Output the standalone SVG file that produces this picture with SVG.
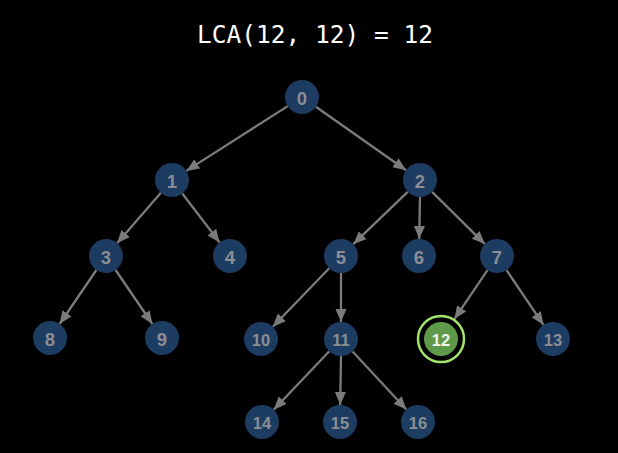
<svg xmlns="http://www.w3.org/2000/svg" width="618" height="453" viewBox="0 0 618 453">
  <defs>
    <style>
      .node circle { fill: #1d3c61; }
      .node text { fill: #8a8e94; font-family: "Liberation Sans", Arial, sans-serif; font-weight: bold; text-anchor: middle; dominant-baseline: central; }
      .big text { font-size: 18.5px; }
      .small text { font-size: 16.5px; }
      .edge { stroke: #7b7b7b; stroke-width: 2.3; fill: none; marker-end: url(#arrow); }
      .title { fill: #ffffff; font-family: "DejaVu Sans Mono", "Liberation Mono", monospace; font-size: 24.5px; text-anchor: middle; }
      #n12 circle.core { fill: #5e9a49; }
      #n12 circle.ring { fill: none; stroke: #a3e46a; stroke-width: 2.5; }
      #n12 text { fill: #f2f4f0; }
    </style>
    <marker id="arrow" markerUnits="userSpaceOnUse" markerWidth="14" markerHeight="12" refX="13" refY="5.5" orient="auto">
      <path d="M0,0 L13,5.5 L0,11 z" fill="#7b7b7b"/>
    </marker>
  </defs>

  <rect width="618" height="453" fill="#000000"/>

  <text class="title" x="315" y="43">LCA(12, 12) = 12</text>

  <g id="edges">
    <line class="edge" x1="287.7" y1="106.1" x2="186.3" y2="170.9"/>
    <line class="edge" x1="315.9" y1="106.8" x2="406.1" y2="170.2"/>
    <line class="edge" x1="160.9" y1="192.8" x2="117.1" y2="243.2"/>
    <line class="edge" x1="182.3" y1="193.5" x2="219.7" y2="242.5"/>
    <line class="edge" x1="407.7" y1="191.8" x2="353.3" y2="244.2"/>
    <line class="edge" x1="420" y1="197" x2="419.2" y2="239"/>
    <line class="edge" x1="432.1" y1="191.9" x2="484.9" y2="244.1"/>
    <line class="edge" x1="96.4" y1="270" x2="59.6" y2="324"/>
    <line class="edge" x1="115.6" y1="270" x2="152.4" y2="324"/>
    <line class="edge" x1="329.2" y1="268.2" x2="272.8" y2="326.8"/>
    <line class="edge" x1="341" y1="273" x2="341" y2="322"/>
    <line class="edge" x1="487.5" y1="270.1" x2="454.4" y2="319.1"/>
    <line class="edge" x1="506.5" y1="270.1" x2="543.5" y2="324.9"/>
    <line class="edge" x1="329.3" y1="351.3" x2="273.7" y2="409.7"/>
    <line class="edge" x1="341" y1="356" x2="340.2" y2="405"/>
    <line class="edge" x1="352.6" y1="351.5" x2="406.4" y2="409.5"/>
  </g>

  <g id="n0" class="node big"><circle cx="302" cy="97" r="17"/><text x="302" y="98">0</text></g>
  <g id="n1" class="node big"><circle cx="172" cy="180" r="17"/><text x="172" y="181">1</text></g>
  <g id="n2" class="node big"><circle cx="420" cy="180" r="17"/><text x="420" y="181">2</text></g>
  <g id="n3" class="node big"><circle cx="106" cy="256" r="17"/><text x="106" y="257">3</text></g>
  <g id="n4" class="node big"><circle cx="230" cy="256" r="17"/><text x="230" y="257">4</text></g>
  <g id="n5" class="node big"><circle cx="341" cy="256" r="17"/><text x="341" y="257">5</text></g>
  <g id="n6" class="node big"><circle cx="419" cy="256" r="17"/><text x="419" y="257">6</text></g>
  <g id="n7" class="node big"><circle cx="497" cy="256" r="17"/><text x="497" y="257">7</text></g>
  <g id="n8" class="node big"><circle cx="50" cy="338" r="17"/><text x="50" y="339">8</text></g>
  <g id="n9" class="node big"><circle cx="162" cy="338" r="17"/><text x="162" y="339">9</text></g>
  <g id="n10" class="node small"><circle cx="261" cy="339" r="17"/><text x="261" y="340">10</text></g>
  <g id="n11" class="node small"><circle cx="341" cy="339" r="17"/><text x="341" y="340">11</text></g>
  <g id="n12" class="node small">
    <circle class="ring" cx="441" cy="339" r="23"/>
    <circle class="core" cx="441" cy="339" r="17"/>
    <text x="441" y="340">12</text>
  </g>
  <g id="n13" class="node small"><circle cx="553" cy="339" r="17"/><text x="553" y="340">13</text></g>
  <g id="n14" class="node small"><circle cx="262" cy="422" r="17"/><text x="262" y="423">14</text></g>
  <g id="n15" class="node small"><circle cx="340" cy="422" r="17"/><text x="340" y="423">15</text></g>
  <g id="n16" class="node small"><circle cx="418" cy="422" r="17"/><text x="418" y="423">16</text></g>
</svg>
